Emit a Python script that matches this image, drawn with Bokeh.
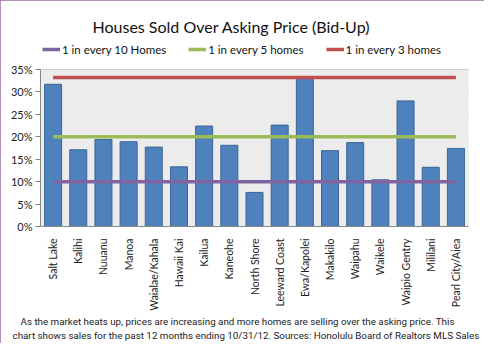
from bokeh.plotting import figure
from bokeh.models import (ColumnDataSource, Legend, LegendItem, Title, BoxAnnotation,
                          NumeralTickFormatter, FixedTicker, Range1d)
from bokeh.embed import file_html
from bokeh.resources import INLINE

areas = ["Salt Lake", "Kalihi", "Nuuanu", "Manoa", "Waialae/Kahala", "Hawaii Kai",
         "Kailua", "Kaneohe", "North Shore", "Leeward Coast", "Ewa/Kapolei",
         "Makakilo", "Waipahu", "Waikele", "Waipio Gentry", "Mililani",
         "Pearl City/Aiea"]
pct_over = [0.317, 0.171, 0.194, 0.189, 0.177, 0.133, 0.224, 0.181, 0.076,
            0.226, 0.330, 0.169, 0.187, 0.104, 0.280, 0.132, 0.174]

ref_labels = ["1 in every 10 Homes", "1 in every 5 homes", "1 in every 3 homes"]
ref_values = [0.10, 0.20, 0.332]
ref_colors = ["#8064a2", "#9bbb59", "#c0504d"]

y_ticks = [0.0, 0.05, 0.10, 0.15, 0.20, 0.25, 0.30, 0.35]
y_max = 0.35

title_text = "Houses Sold Over Asking Price (Bid-Up)"
caption_1 = ("As the market heats up, prices are increasing and more homes are "
             "selling over the asking price. This")
caption_2 = ("chart shows sales for the past 12 months ending 10/31/12. "
             "Sources: Honolulu Board of Realtors MLS Sales")

FONT = "Lato"
CAP_FONT = "Roboto"
BORDER = "#9b6a9e"

# plot area is 157 px tall for 0..35%; the frame extends 29 px higher to hold the legend
y_top = y_max * 186.0 / 157.0

p = figure(x_range=areas, y_range=Range1d(0, y_top), width=484, height=343,
           output_backend="svg", toolbar_location=None,
           min_border_left=40, min_border_right=16, min_border_top=40,
           min_border_bottom=117, title=title_text)
p.styles = {"outline": f"2px solid {BORDER}", "outline-offset": "-2px"}
p.background_fill_color = "white"
p.border_fill_color = "white"
p.outline_line_color = None

p.title.align = "left"
p.title.offset = 52
p.title.text_font = FONT
p.title.text_font_size = "16px"
p.title.text_font_style = "normal"
p.title.text_color = "#111111"

p.add_layout(BoxAnnotation(bottom=0, top=y_max, fill_color="#ececec", fill_alpha=1,
                           line_color="#c8c8c8", line_width=1, level="underlay"))

src = ColumnDataSource(dict(area=areas, pct=pct_over))
p.vbar(x="area", top="pct", width=0.675, source=src,
       fill_color="#4f81bd", line_color="#3b6593", line_width=1)

items = []
for lab, v, col in zip(ref_labels, ref_values, ref_colors):
    r = p.line(x=[areas[0], areas[-1]], y=[v, v], line_color=col, line_width=3.5)
    items.append(LegendItem(label=lab, renderers=[r]))

legend = Legend(items=items, orientation="horizontal", location="top_left",
                padding=0, margin=2, spacing=22, glyph_width=18, glyph_height=14,
                label_height=14, label_standoff=2, border_line_color=None,
                background_fill_alpha=0, label_text_font=FONT,
                label_text_font_size="11.5px", label_text_color="#111111")
p.add_layout(legend, "center")

p.yaxis.ticker = FixedTicker(ticks=y_ticks)
p.yaxis.bounds = (0, y_max)
p.yaxis.formatter = NumeralTickFormatter(format="0%")
p.yaxis.major_label_text_font = FONT
p.yaxis.major_label_text_font_size = "11px"
p.yaxis.major_label_text_color = "#222222"
p.yaxis.axis_line_color = "#868686"
p.yaxis.major_tick_line_color = "#868686"
p.yaxis.major_tick_in = 0
p.yaxis.major_tick_out = 5
p.yaxis.minor_tick_line_color = None
p.yaxis.major_label_standoff = 3

p.xaxis.major_label_orientation = 1.5708
p.xaxis.major_label_text_font = FONT
p.xaxis.major_label_text_font_size = "10.5px"
p.xaxis.major_label_text_color = "#222222"
p.xaxis.axis_line_color = "#868686"
p.xaxis.major_tick_line_color = None
p.xaxis.major_label_standoff = 6

p.xgrid.grid_line_color = None
p.ygrid.grid_line_color = "#b8b8b8"
p.ygrid.grid_line_width = 1

for txt, off in ((caption_1, -20), (caption_2, -28)):
    p.add_layout(Title(text=txt, align="left", offset=off, text_font=CAP_FONT,
                       text_font_size="9.8px", text_font_style="normal",
                       text_color="#222222", standoff=1), "below")

open("out.html", "w").write(file_html(p, INLINE))
